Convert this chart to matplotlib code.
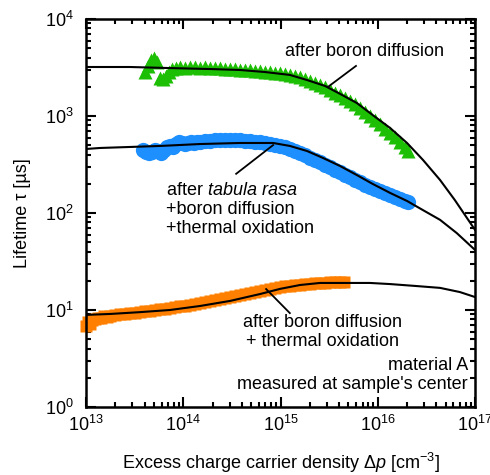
# -*- coding: utf-8 -*-
"""
lifetime vs injection level, material A
"""
import matplotlib
matplotlib.use('Agg')
import matplotlib.pyplot as plt

# measured data after boron diffusion (green)
dp_boron = [4.04e13, 4.34e13, 4.66e13, 5.00e13, 5.37e13, 5.77e13, 6.19e13, 6.65e13, 7.14e13,
            7.66e13, 8.42e13, 9.26e13, 1.04e14, 1.17e14, 1.32e14, 1.49e14, 1.67e14, 1.88e14,
            2.12e14, 2.39e14, 2.69e14, 3.03e14, 3.40e14, 3.83e14, 4.31e14, 4.86e14, 5.47e14,
            6.15e14, 6.93e14, 7.80e14, 8.78e14, 9.88e14, 1.11e15, 1.25e15, 1.41e15, 1.59e15,
            1.79e15, 2.01e15, 2.26e15, 2.55e15, 2.87e15, 3.23e15, 3.63e15, 4.09e15, 4.60e15,
            5.18e15, 5.83e15, 6.57e15, 7.39e15, 8.32e15, 9.37e15, 1.05e16, 1.19e16, 1.34e16,
            1.50e16, 1.69e16, 1.91e16, 2.05e16]
tau_boron = [2840, 3280, 3780, 3960, 3600, 2470, 2410, 2590, 2840,
             3050, 3120, 3200, 3120, 3200, 3200, 3120, 3200, 3120,
             3120, 3120, 3050, 3050, 3050, 2980, 2980, 2980, 2910,
             2910, 2840, 2840, 2780, 2780, 2710, 2650, 2590, 2520,
             2410, 2290, 2190, 2090, 1990, 1850, 1730, 1650, 1530,
             1430, 1330, 1210, 1100, 1000, 910, 828, 735, 668,
             608, 540, 479, 436]

# measured data after tabula rasa + boron diffusion + thermal oxidation (blue)
dp_tr = [3.86e13, 4.14e13, 4.44e13, 4.77e13, 5.12e13, 5.50e13, 5.91e13, 6.34e13, 6.81e13,
         7.31e13, 7.85e13, 8.42e13, 9.05e13, 9.70e13, 1.04e14, 1.12e14, 1.20e14, 1.29e14,
         1.38e14, 1.49e14, 1.67e14, 1.88e14, 2.12e14, 2.39e14, 2.69e14, 3.03e14, 3.40e14,
         3.83e14, 4.31e14, 4.86e14, 5.47e14, 6.15e14, 6.93e14, 7.80e14, 8.78e14, 9.88e14,
         1.11e15, 1.25e15, 1.41e15, 1.59e15, 1.79e15, 2.01e15, 2.26e15, 2.55e15, 2.87e15,
         3.23e15, 3.63e15, 4.09e15, 4.60e15, 5.18e15, 5.83e15, 6.57e15, 7.39e15, 8.32e15,
         9.37e15, 1.05e16, 1.19e16, 1.34e16, 1.50e16, 1.69e16, 1.91e16, 2.05e16]
tau_tr = [446, 426, 415, 426, 446, 436, 415, 446, 479,
          491, 479, 514, 540, 527, 514, 527, 540, 527,
          540, 540, 552, 552, 566, 566, 566, 566, 566,
          566, 552, 552, 540, 540, 527, 514, 502, 491,
          479, 457, 436, 415, 396, 369, 352, 336, 313,
          298, 277, 265, 246, 235, 219, 209, 194, 185,
          177, 169, 161, 153, 146, 139, 133, 130]

# measured data after boron diffusion + thermal oxidation (orange)
dp_ox = [1.00e13, 1.05e13, 1.10e13, 1.15e13, 1.24e13, 1.33e13, 1.43e13, 1.53e13, 1.64e13,
         1.77e13, 1.99e13, 2.24e13, 2.52e13, 2.83e13, 3.19e13, 3.59e13, 4.04e13, 4.55e13,
         5.12e13, 5.77e13, 6.49e13, 7.31e13, 8.22e13, 9.26e13, 1.04e14, 1.17e14, 1.32e14,
         1.49e14, 1.67e14, 1.88e14, 2.12e14, 2.39e14, 2.69e14, 3.03e14, 3.40e14, 3.83e14,
         4.31e14, 4.86e14, 5.47e14, 6.15e14, 6.93e14, 7.80e14, 8.78e14, 9.88e14, 1.11e15,
         1.25e15, 1.41e15, 1.59e15, 1.79e15, 2.01e15, 2.26e15, 2.55e15, 2.87e15, 3.23e15,
         3.63e15, 4.09e15, 4.50e15]
tau_ox = [6.84, 7.52, 7.17, 7.88, 8.08, 8.27, 8.27, 8.67, 8.47,
          8.67, 8.88, 9.09, 9.09, 9.31, 9.31, 9.53, 9.76, 9.76,
          10.0, 10.24, 10.24, 10.49, 10.74, 11.0, 11.0, 11.26, 11.53,
          11.81, 12.09, 12.38, 12.68, 12.98, 13.3, 13.6, 13.9, 14.3,
          14.6, 15.0, 15.3, 15.7, 16.1, 16.5, 16.9, 17.3, 17.7,
          17.7, 18.1, 18.1, 18.5, 18.5, 19.0, 19.0, 19.0, 19.4,
          19.4, 19.4, 19.4]

# fitted curves (black lines)
dp_fit_boron = [1e13, 2.83e13, 7.31e13, 1.88e14, 3.84e14, 6.93e14, 1.25e15, 1.87e15, 2.87e15,
                4.1e15, 6.1e15, 8.9e15, 1.34e16, 2.0e16, 2.92e16, 4.37e16, 6.2e16, 7.9e16, 1e17]
tau_fit_boron = [3200, 3200, 3120, 3050, 2980, 2840, 2650, 2350, 2040,
                 1690, 1360, 1020, 752, 527, 352, 219, 136, 95, 67]

dp_fit_tr = [1e13, 1.39e13, 5.77e13, 1.49e14, 3.84e14, 8.4e14, 1.25e15, 1.87e15, 2.74e15,
             4.1e15, 6.1e15, 8.9e15, 1.34e16, 2.0e16, 2.92e16, 4.37e16, 6.5e16, 1e17]
tau_fit_tr = [457, 468, 491, 514, 527, 527, 491, 436, 369,
              305, 246, 199, 161, 133, 107, 85, 62, 41.6]

dp_fit_ox = [1e13, 1.77e13, 3.59e13, 7.31e13, 1.49e14, 3.03e14, 6.15e14, 9.88e14, 1.59e15,
             2.55e15, 4.83e15, 8.3e15, 1.34e16, 2.42e16, 4.37e16, 7.0e16, 1e17]
tau_fit_ox = [8.9, 9.1, 9.5, 10.0, 11.0, 12.4, 14.6, 16.5, 18.1,
              19.0, 19.0, 19.0, 18.5, 17.7, 16.9, 15.3, 13.6]

plt.rcParams['font.family'] = ['Liberation Sans', 'DejaVu Sans']
plt.rcParams['mathtext.fontset'] = 'custom'
plt.rcParams['mathtext.rm'] = 'Liberation Sans'
plt.rcParams['mathtext.it'] = 'Liberation Sans:italic'
plt.rcParams['mathtext.default'] = 'rm'

fig = plt.figure(figsize=(4.9, 4.75), dpi=100)
ax = fig.add_axes([0.1755, 0.1432, 0.7939, 0.8168])

ax.plot(dp_boron, tau_boron, '^', color='#1dbf05', ms=10, mec='none', clip_on=False)
ax.plot(dp_tr, tau_tr, 'o', color='#1e8fff', ms=11, mec='none', clip_on=False)
ax.plot(dp_ox, tau_ox, 's', color='#ff8000', ms=9, mec='none', clip_on=False)

ax.plot(dp_fit_boron, tau_fit_boron, '-', color='k', lw=1.5)
ax.plot(dp_fit_tr, tau_fit_tr, '-', color='k', lw=1.5)
ax.plot(dp_fit_ox, tau_fit_ox, '-', color='k', lw=1.5)

ax.set_xscale('log')
ax.set_yscale('log')
ax.set_xlim(1e13, 1e17)
ax.set_ylim(1e0, 1e4)

for s in ax.spines.values():
    s.set_linewidth(1.8)
ax.tick_params(which='both', direction='in', top=True, right=True, width=1.5, labelsize=13)
ax.tick_params(which='major', length=7)
ax.tick_params(which='minor', length=3.5)
ax.tick_params(axis='y', pad=9)
ax.tick_params(axis='x', pad=6)

ax.set_xlabel(r'Excess charge carrier density $\Delta \mathit{p}$ [cm$^{-3}$]', fontsize=13, labelpad=11)
ax.set_ylabel('Lifetime τ [µs]', fontsize=13, labelpad=10)

# annotations (axes fraction)
tr = ax.transAxes
ax.text(0.715, 0.9175, 'after boron diffusion', transform=tr, fontsize=13,
        ha='center', va='center')
ax.plot([0.694, 0.622], [0.879, 0.825], '-', color='k', lw=1.3, transform=tr)

ax.text(0.206, 0.510, 'after $\\mathit{tabula\\ rasa}$\n+boron diffusion\n+thermal oxidation',
        transform=tr, fontsize=13, ha='left', va='center', linespacing=1.15)
ax.plot([0.386, 0.481], [0.601, 0.675], '-', color='k', lw=1.3, transform=tr)

ax.text(0.607, 0.193, 'after boron diffusion\n+ thermal oxidation', transform=tr,
        fontsize=13, ha='center', va='center', linespacing=1.15)
ax.plot([0.524, 0.463], [0.242, 0.304], '-', color='k', lw=1.3, transform=tr)

ax.text(0.982, 0.082, "material A\nmeasured at sample's center", transform=tr, fontsize=13,
        ha='right', va='center', multialignment='right', linespacing=1.15)

plt.savefig('out.png', dpi=100)
